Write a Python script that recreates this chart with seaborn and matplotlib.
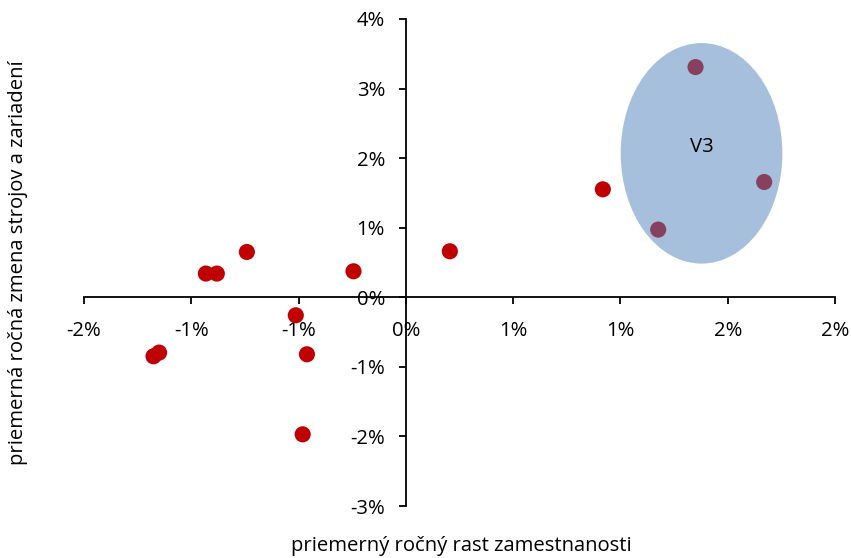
import matplotlib
matplotlib.use("Agg")
import matplotlib.pyplot as plt
from matplotlib.patches import Ellipse
import seaborn as sns
import pandas as pd

# --- data (values in %) ---
emp_growth = [-1.176, -1.150, -0.932, -0.881, -0.741, -0.244, -0.513, -0.461,
              -0.481, 0.205, 0.918, 1.350, 1.670, 1.176]
machine_change = [-0.848, -0.795, 0.341, 0.341, 0.651, 0.374, -0.259, -0.819,
                  -1.970, 0.661, 1.552, 3.309, 1.657, 0.973]

x_ticks = [-1.5, -1.0, -0.5, 0.0, 0.5, 1.0, 1.5, 2.0]
x_tick_labels = ["-2%", "-1%", "-1%", "0%", "1%", "1%", "2%", "2%"]
y_ticks = [-3, -2, -1, 0, 1, 2, 3, 4]
y_tick_labels = ["-3%", "-2%", "-1%", "0%", "1%", "2%", "3%", "4%"]

# cluster V3 highlight
v3_center = (1.378, 2.069)
v3_width = 0.7535
v3_height = 3.17

df = pd.DataFrame({"emp": emp_growth, "mach": machine_change})

sns.set_style("white")
plt.rcParams["font.family"] = ["Open Sans", "DejaVu Sans"]
plt.rcParams["text.color"] = "black"
plt.rcParams["axes.labelcolor"] = "black"
plt.rcParams["xtick.color"] = "black"
plt.rcParams["ytick.color"] = "black"
FS = 14.6

fig = plt.figure(figsize=(8.51, 5.58), dpi=100)
ax = fig.add_axes([84 / 851, 52 / 558, 751 / 851, 487 / 558])

sns.scatterplot(data=df, x="emp", y="mach", ax=ax, color="#C00000",
                s=135, edgecolor="none", linewidth=0, zorder=3)

ell = Ellipse(v3_center, v3_width, v3_height, facecolor="#4F81BD",
              edgecolor="none", alpha=0.5, zorder=4)
ax.add_patch(ell)
ax.text(v3_center[0], 2.16, "V3", ha="center", va="center", fontsize=FS,
        color="black", zorder=5)

ax.set_xlim(-1.5, 2.0)
ax.set_ylim(-3, 4)
ax.set_xticks(x_ticks)
ax.set_xticklabels(x_tick_labels)
ax.set_yticks(y_ticks)
ax.set_yticklabels(y_tick_labels)

# axes crossing at zero
ax.spines["left"].set_position(("data", 0))
ax.spines["bottom"].set_position(("data", 0))
ax.spines["right"].set_visible(False)
ax.spines["top"].set_visible(False)
for sp in ["left", "bottom"]:
    ax.spines[sp].set_color("black")
    ax.spines[sp].set_linewidth(1.3)

ax.tick_params(axis="x", direction="out", length=5, width=1.3, colors="black",
               labelsize=FS, pad=12, bottom=True)
ax.tick_params(axis="y", direction="out", length=5, width=1.3, colors="black",
               labelsize=FS, pad=10, left=True)

ax.set_xlabel("priemerný ročný rast zamestnanosti", fontsize=FS, color="black")
ax.set_ylabel("priemerná ročná zmena strojov a zariadení", fontsize=FS, color="black")
ax.xaxis.set_label_coords(0.503, -0.062)
ax.yaxis.set_label_coords(-0.075, 0.5)

fig.savefig("out.png", dpi=100)
